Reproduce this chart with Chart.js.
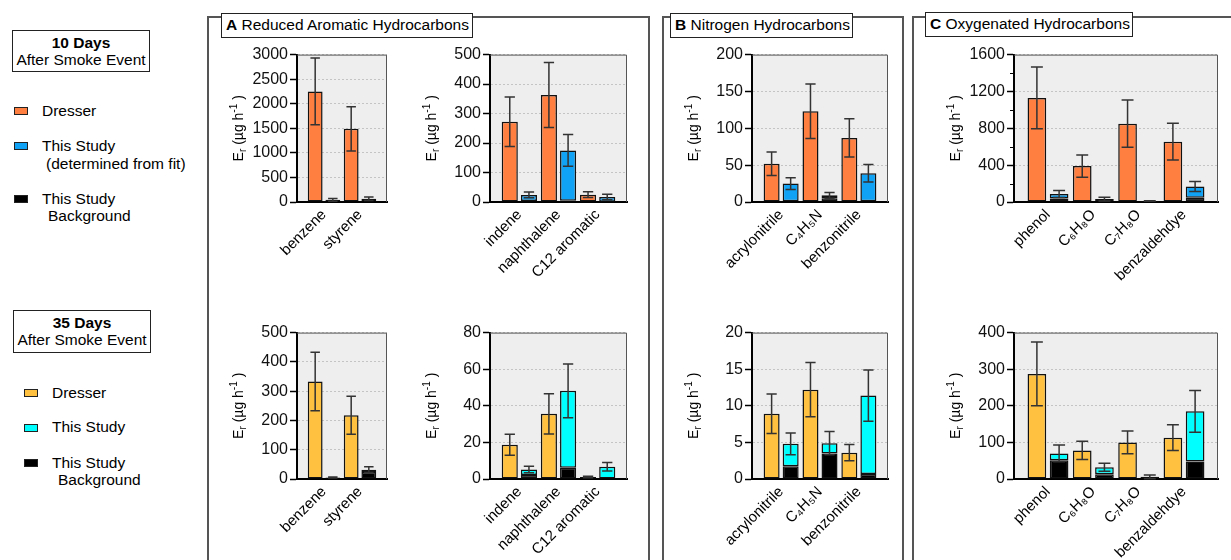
<!DOCTYPE html>
<html>
<head>
<meta charset="utf-8">
<script src="https://cdn.jsdelivr.net/npm/chart.js@4.4.1/dist/chart.umd.min.js"></script>
<style>
  body { margin: 0; background: #fff; font-family: 'Liberation Sans', Arial, Helvetica, sans-serif; color: #000; }
  #wrap { position: relative; width: 1231px; height: 560px; overflow: hidden; }
  .frame { position: absolute; box-sizing: border-box; border: 2px solid #555; }
  .ptitle { position: absolute; box-sizing: border-box; border: 1.5px solid #222; background: #fff;
            font-size: 15.5px; line-height: 22px; padding-left: 4px; white-space: nowrap; }
  .dbox { position: absolute; box-sizing: border-box; border: 1.5px solid #222; text-align: center;
          font-size: 15.5px; line-height: 17px; padding-top: 3px; }
  .lg { position: absolute; font-size: 15.5px; line-height: 18px; white-space: nowrap; }
  .sw { position: absolute; width: 14px; height: 8px; box-sizing: border-box; border: 1px solid #222; }
  canvas { position: absolute; }
</style>
</head>
<body>
<div id="wrap">
  <div class="frame" style="left:207px;top:16px;width:443px;height:600px"></div>
  <div class="frame" style="left:662px;top:16px;width:242px;height:600px"></div>
  <div class="frame" style="left:912px;top:16px;width:400px;height:600px"></div>
  <div class="ptitle" style="left:221px;top:13px;width:252px;height:25px"><b>A</b> Reduced Aromatic Hydrocarbons</div>
  <div class="ptitle" style="left:670px;top:13px;width:183px;height:25px"><b>B</b> Nitrogen Hydrocarbons</div>
  <div class="ptitle" style="left:925px;top:12px;width:208px;height:25px"><b>C</b> Oxygenated Hydrocarbons</div>

  <div class="dbox" style="left:12px;top:30px;width:138px;height:42px"><b>10 Days</b><br>After Smoke Event</div>
  <div class="sw" style="left:14px;top:107px;background:#FF7F40"></div>
  <div class="lg" style="left:42px;top:102px">Dresser</div>
  <div class="sw" style="left:14px;top:142px;background:#10A2F5"></div>
  <div class="lg" style="left:42px;top:137px">This Study</div>
  <div class="lg" style="left:46px;top:155px">(determined from fit)</div>
  <div class="sw" style="left:14px;top:195px;background:#000"></div>
  <div class="lg" style="left:42px;top:190px">This Study</div>
  <div class="lg" style="left:48px;top:207px">Background</div>

  <div class="dbox" style="left:13px;top:310px;width:138px;height:43px"><b>35 Days</b><br>After Smoke Event</div>
  <div class="sw" style="left:24px;top:389px;background:#FFC13F"></div>
  <div class="lg" style="left:52px;top:384px">Dresser</div>
  <div class="sw" style="left:24px;top:424px;background:#00FFFF"></div>
  <div class="lg" style="left:52px;top:418px">This Study</div>
  <div class="sw" style="left:24px;top:459px;background:#000"></div>
  <div class="lg" style="left:52px;top:454px">This Study</div>
  <div class="lg" style="left:58px;top:471px">Background</div>
</div>

<script>
// categories
const catA1 = ['benzene', 'styrene'];
const catA2 = ['indene', 'naphthalene', 'C12 aromatic'];
const catB = ['acrylonitrile', 'C₄H₅N', 'benzonitrile'];
const catC = ['phenol', 'C₆H₈O', 'C₇H₈O', 'benzaldehdye'];

// 10 days after smoke event
const d10A1 = [2250, 1490], d10A1Err = [680, 450];
const s10A1 = [45, 65], s10A1Err = [28, 35], bg10A1 = [45, 12];
const d10A2 = [272, 363, 25], d10A2Err = [84, 110, 10];
const s10A2 = [24, 175, 17], s10A2Err = [10, 54, 9], bg10A2 = [3, 4, 1];
const d10B = [52, 123, 87], d10BErr = [16, 37, 26];
const s10B = [25, 9, 39], s10BErr = [8, 4, 12], bg10B = [1, 5, 1];
const d10C = [1130, 390, 850, 655], d10CErr = [335, 120, 256, 200];
const s10C = [88, 32, 10, 168], s10CErr = [38, 20, 3, 55], bg10C = [38, 22, 10, 45];

// 35 days after smoke event
const d35A1 = [333, 218], d35A1Err = [100, 65];
const s35A1 = [5, 32], s35A1Err = [2, 10], bg35A1 = [5, 24];
const d35A2 = [18.7, 35.6, 1.1], d35A2Err = [5.7, 11, 0.4];
const s35A2 = [5.2, 48.2, 6.7], s35A2Err = [1.8, 14.7, 2.3], bg35A2 = [2.2, 6.1, 0];
const d35B = [8.9, 12.2, 3.6], d35BErr = [2.7, 3.7, 1.1];
const s35B = [4.8, 4.9, 11.4], s35BErr = [1.5, 1.6, 3.5], bg35B = [1.75, 3.5, 0.7];
const d35C = [287, 78, 100, 113], d35CErr = [87, 25, 31, 35];
const s35C = [70, 32, 6, 185], s35CErr = [23, 11, 5, 57], bg35C = [51, 13, 6, 48];

const dresser10 = '#FF7F40', study10 = '#10A2F5', dresser35 = '#FFC13F', study35 = '#00FFFF';

Chart.defaults.font.family = "'Liberation Sans', Arial, Helvetica, sans-serif";

function drawYTitle(ctx, cx, cy) {
  const big = 14, small = 10;
  const parts = [['E', 0], ['r', 1], [' (µg h', 0], ['-1', -1], [' )', 0]];
  ctx.save();
  ctx.translate(cx, cy);
  ctx.rotate(-Math.PI / 2);
  ctx.fillStyle = '#000';
  ctx.textBaseline = 'middle';
  const ws = parts.map(p => {
    ctx.font = (p[1] ? small : big) + "px 'Liberation Sans', Arial, sans-serif";
    return ctx.measureText(p[0]).width;
  });
  let x = -ws.reduce((a, b) => a + b, 0) / 2;
  parts.forEach((p, i) => {
    ctx.font = (p[1] ? small : big) + "px 'Liberation Sans', Arial, sans-serif";
    const dy = p[1] === 1 ? 4 : (p[1] === -1 ? -5 : 0);
    ctx.fillText(p[0], x, dy);
    x += ws[i];
  });
  ctx.restore();
}

function makeChart(cfg) {
  const w = cfg.r - cfg.l + 81, h = cfg.b - cfg.t + 90;
  const cv = document.createElement('canvas');
  cv.width = w; cv.height = h;
  cv.style.left = (cfg.l - 75) + 'px';
  cv.style.top = (cfg.t - 10) + 'px';
  document.getElementById('wrap').appendChild(cv);

  const cats = cfg.cats;
  const top = cfg.s.map((v, i) => v - cfg.bg[i]);

  const framePlugin = {
    id: 'frame',
    beforeDraw(chart) {
      const {ctx, chartArea: a} = chart;
      ctx.save();
      ctx.fillStyle = '#eeeeee';
      ctx.fillRect(a.left, a.top, a.right - a.left, a.bottom - a.top);
      ctx.restore();
    },
    afterDraw(chart) {
      const {ctx, chartArea: a} = chart;
      const y = chart.scales.y;
      ctx.save();
      ctx.strokeStyle = '#555';
      ctx.lineWidth = 1;
      ctx.beginPath();
      ctx.moveTo(a.left, a.top + 0.5);
      ctx.lineTo(a.right - 0.5, a.top + 0.5);
      ctx.lineTo(a.right - 0.5, a.bottom);
      ctx.stroke();
      if (cfg.minor) {
        ctx.strokeStyle = '#000';
        for (let v = cfg.minor; v < cfg.max; v += 2 * cfg.minor) {
          const py = Math.round(y.getPixelForValue(v)) + 0.5;
          ctx.beginPath(); ctx.moveTo(a.left - 4, py); ctx.lineTo(a.left, py); ctx.stroke();
        }
      }
      ctx.restore();
      drawYTitle(ctx, a.left - 58, (a.top + a.bottom) / 2);
    }
  };

  const errPlugin = {
    id: 'errbars',
    afterDatasetsDraw(chart) {
      const {ctx} = chart;
      const y = chart.scales.y;
      ctx.save();
      ctx.strokeStyle = '#333';
      ctx.lineWidth = 1.5;
      const draw = (el, val, err) => {
        const hw = el.width * 0.32;
        const y1 = y.getPixelForValue(val + err);
        const y0 = y.getPixelForValue(Math.max(val - err, 0));
        ctx.beginPath();
        ctx.moveTo(el.x, y0); ctx.lineTo(el.x, y1);
        ctx.moveTo(el.x - hw, y1); ctx.lineTo(el.x + hw, y1);
        ctx.moveTo(el.x - hw, y0); ctx.lineTo(el.x + hw, y0);
        ctx.stroke();
      };
      chart.getDatasetMeta(0).data.forEach((el, i) => draw(el, cfg.d[i], cfg.dE[i]));
      chart.getDatasetMeta(2).data.forEach((el, i) => draw(el, cfg.s[i], cfg.sE[i]));
      ctx.restore();
    }
  };

  const pts = arr => arr.map((v, i) => ({x: i, y: v}));
  const barStyle = {borderColor: '#111', borderWidth: 1.5, borderSkipped: false,
                    categoryPercentage: 0.98, barPercentage: 0.84};

  return new Chart(cv, {
    type: 'bar',
    data: {
      datasets: [
        Object.assign({label: 'Dresser', data: pts(cfg.d), backgroundColor: cfg.c1, stack: 'd'}, barStyle),
        Object.assign({label: 'Background', data: pts(cfg.bg), backgroundColor: '#000', stack: 's'}, barStyle),
        Object.assign({label: 'This Study', data: pts(top), backgroundColor: cfg.c2, stack: 's'}, barStyle)
      ]
    },
    options: {
      responsive: false,
      animation: false,
      devicePixelRatio: 1,
      layout: {padding: {left: 0, top: 10, right: 6, bottom: 0}},
      plugins: {legend: {display: false}, tooltip: {enabled: false}},
      scales: {
        x: {
          type: 'linear', stacked: true, offset: false,
          min: -0.75, max: cats.length - 0.25,
          afterBuildTicks: s => { s.ticks = cats.map((c, i) => ({value: i})); },
          afterFit: s => { s.height = 80; },
          grid: {display: false, drawTicks: false, offset: false},
          border: {display: true, color: '#000', width: 2},
          ticks: {autoSkip: false, minRotation: 45, maxRotation: 45, padding: 4,
                  font: {size: 15}, color: '#000', callback: v => cats[v]}
        },
        y: {
          stacked: true, min: 0, max: cfg.max,
          afterFit: s => { s.width = 75; },
          ticks: {stepSize: cfg.step, padding: 2, font: {size: 16}, color: '#111',
                  callback: v => String(v)},
          grid: {color: '#c4c4c4', lineWidth: 1, tickColor: '#000', tickLength: 7, tickWidth: 1.5},
          border: {color: '#000', width: 2, dash: [2, 2]}
        }
      }
    },
    plugins: [framePlugin, errPlugin]
  });
}

const topT = 53, topB = 202, botT = 331, botB = 479;
const cols = {A1: [297, 387], A2: [490, 627], B: [752, 888], C: [1014, 1218]};

makeChart({l: cols.A1[0], r: cols.A1[1], t: topT, b: topB, cats: catA1, d: d10A1, dE: d10A1Err, s: s10A1, sE: s10A1Err, bg: bg10A1, max: 3000, step: 500, c1: dresser10, c2: study10});
makeChart({l: cols.A2[0], r: cols.A2[1], t: topT, b: topB, cats: catA2, d: d10A2, dE: d10A2Err, s: s10A2, sE: s10A2Err, bg: bg10A2, max: 500, step: 100, c1: dresser10, c2: study10});
makeChart({l: cols.B[0], r: cols.B[1], t: topT, b: topB, cats: catB, d: d10B, dE: d10BErr, s: s10B, sE: s10BErr, bg: bg10B, max: 200, step: 50, c1: dresser10, c2: study10});
makeChart({l: cols.C[0], r: cols.C[1], t: topT, b: topB, cats: catC, d: d10C, dE: d10CErr, s: s10C, sE: s10CErr, bg: bg10C, max: 1600, step: 400, minor: 200, c1: dresser10, c2: study10});

makeChart({l: cols.A1[0], r: cols.A1[1], t: botT, b: botB, cats: catA1, d: d35A1, dE: d35A1Err, s: s35A1, sE: s35A1Err, bg: bg35A1, max: 500, step: 100, c1: dresser35, c2: study35});
makeChart({l: cols.A2[0], r: cols.A2[1], t: botT, b: botB, cats: catA2, d: d35A2, dE: d35A2Err, s: s35A2, sE: s35A2Err, bg: bg35A2, max: 80, step: 20, c1: dresser35, c2: study35});
makeChart({l: cols.B[0], r: cols.B[1], t: botT, b: botB, cats: catB, d: d35B, dE: d35BErr, s: s35B, sE: s35BErr, bg: bg35B, max: 20, step: 5, c1: dresser35, c2: study35});
makeChart({l: cols.C[0], r: cols.C[1], t: botT, b: botB, cats: catC, d: d35C, dE: d35CErr, s: s35C, sE: s35CErr, bg: bg35C, max: 400, step: 100, c1: dresser35, c2: study35});
</script>
</body>
</html>
